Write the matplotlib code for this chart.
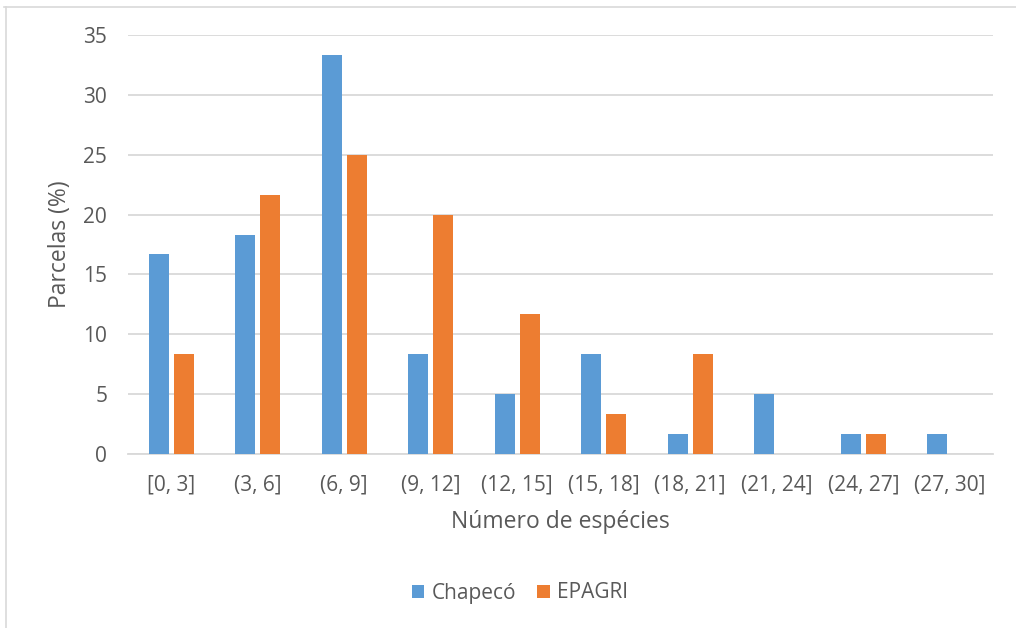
import matplotlib.pyplot as plt
from matplotlib.lines import Line2D
import numpy as np

classes = ["[0, 3]", "(3, 6]", "(6, 9]", "(9, 12]", "(12, 15]",
           "(15, 18]", "(18, 21]", "(21, 24]", "(24, 27]", "(27, 30]"]
chapeco = [16.67, 18.33, 33.33, 8.33, 5.0, 8.33, 1.67, 5.0, 1.67, 1.67]
epagri = [8.33, 21.67, 25.0, 20.0, 11.67, 3.33, 8.33, 0.0, 1.67, 0.0]
yticks = [0, 5, 10, 15, 20, 25, 30, 35]

text_color = "#595959"
grid_color = "#D9D9D9"
plt.rcParams["font.family"] = ["Open Sans", "DejaVu Sans"]

fig = plt.figure(figsize=(10.16, 6.28), dpi=100)
ax = fig.add_axes([128 / 1016, 1 - 454 / 628, (993 - 128) / 1016, (454 - 35) / 628])

x = np.arange(len(classes))
w = 0.23
ax.bar(x - 0.145, chapeco, width=w, color="#5B9BD5", label="Chapecó", zorder=3)
ax.bar(x + 0.145, epagri, width=w, color="#ED7D31", label="EPAGRI", zorder=3)

ax.set_xlim(-0.5, len(classes) - 0.5)
ax.set_ylim(0, 35)
ax.set_yticks(yticks)
ax.set_xticks(x)
ax.set_xticklabels(classes)
ax.yaxis.grid(True, color=grid_color, linewidth=1.3, zorder=0)
for s in ["top", "right", "left"]:
    ax.spines[s].set_visible(False)
ax.spines["bottom"].set_color(grid_color)
ax.spines["bottom"].set_linewidth(1.3)
ax.tick_params(axis="both", length=0, labelsize=15, colors=text_color)
ax.tick_params(axis="y", pad=15)
ax.tick_params(axis="x", pad=15)

ax.set_ylabel("Parcelas (%)", fontsize=16.5, color=text_color, labelpad=8)
ax.set_xlabel("Número de espécies", fontsize=16.5, color=text_color, labelpad=10)

ax.legend(loc="center", bbox_to_anchor=(520 / 1016, 1 - 593 / 628),
          bbox_transform=fig.transFigure, ncol=2, frameon=False,
          fontsize=15, labelcolor=text_color, handlelength=0.6,
          handleheight=0.6, columnspacing=1.0, handletextpad=0.35)

# chart frame
fig.add_artist(Line2D([4 / 1016, 1], [1 - 7 / 628, 1 - 7 / 628],
                      transform=fig.transFigure, color="#D9D9D9", linewidth=1.2))
fig.add_artist(Line2D([6 / 1016, 6 / 1016], [0, 1 - 7 / 628],
                      transform=fig.transFigure, color="#D9D9D9", linewidth=1.2))

fig.savefig("out.png", dpi=100)
